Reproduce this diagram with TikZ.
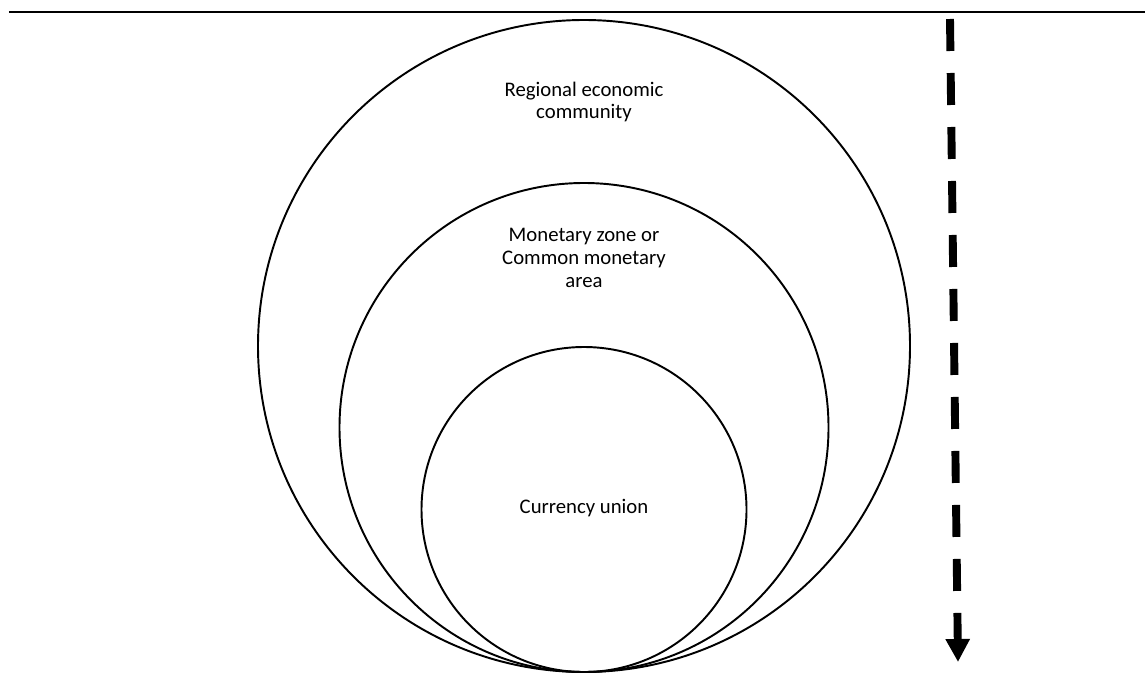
\documentclass[tikz,border=0pt]{standalone}
\usepackage{fontspec}
\setmainfont{Carlito}
\usepackage{tikz}
\usetikzlibrary{arrows.meta,positioning}

\tikzset{
  ring/.style={circle, draw, line width=1.1pt, inner sep=0pt},
  label text/.style={align=center, font=\fontsize{11.8}{13}\selectfont},
  trend/.style={line width=4.5pt, dash pattern=on 0.64cm off 0.44cm,
    -{Triangle[width=0.46cm,length=0.46cm]}}
}

\begin{document}
\begin{tikzpicture}
    \useasboundingbox (0,0) rectangle (22.9,-13.54);
    % Rule across the top
    \coordinate (ruleL) at (0.18,-0.24);
    \coordinate (ruleR) at (22.9,-0.24);
    \draw[line width=0.85pt] (ruleL) -- (ruleR);
    % Nested circles, all touching at the bottom
    \node[ring, minimum size=13.04cm] (community) at (11.68,-6.92) {};
    \node[ring, minimum size=9.78cm] (zone) at (11.68,-8.55) {};
    \node[ring, minimum size=6.5cm] (union) at (11.68,-10.19) {};
    % Labels
    \node[label text] (communityText) at (11.68,-2.04) {Regional economic\\community};
    \node[label text] (zoneText) at (11.68,-5.16) {Monetary zone or\\Common monetary\\area};
    \node[label text] (unionText) at (11.68,-10.16) {Currency union};
    % Dashed arrow on the right
    \coordinate (arrowTop) at (19.0,-0.38);
    \coordinate (arrowEnd) at (19.16,-13.24);
    \draw[trend] (arrowTop) -- (arrowEnd);
\end{tikzpicture}
\end{document}
